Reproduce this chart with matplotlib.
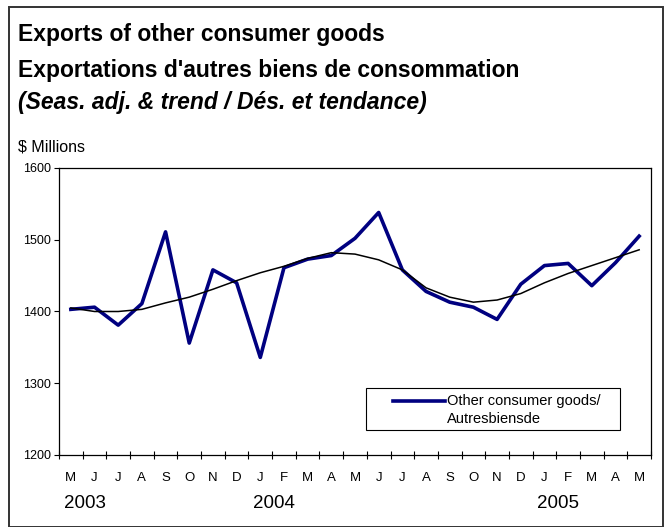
import matplotlib.pyplot as plt
from matplotlib.lines import Line2D
from matplotlib.transforms import blended_transform_factory
import numpy as np

plt.rcParams['font.family'] = ['Liberation Sans', 'DejaVu Sans']

# mois de mai 2003 a mai 2005
months = ['M', 'J', 'J', 'A', 'S', 'O', 'N', 'D', 'J', 'F', 'M', 'A',
          'M', 'J', 'J', 'A', 'S', 'O', 'N', 'D', 'J', 'F', 'M', 'A', 'M']
years = ['2003', '2004', '2005']
year_pos = [0, 8, 20]

seas_adj = [1403, 1406, 1381, 1411, 1511, 1356, 1458, 1440, 1336, 1461, 1473, 1478,
            1502, 1538, 1458, 1428, 1413, 1406, 1389, 1438, 1464, 1467, 1436, 1468, 1505]
trend = [1405, 1400, 1400, 1403, 1412, 1420, 1431, 1443, 1454, 1463, 1474, 1482,
         1480, 1472, 1458, 1433, 1420, 1413, 1416, 1425, 1440, 1453, 1464, 1475, 1486]

W, H = 666, 527
fig = plt.figure(figsize=(W/100, H/100), dpi=100)

# cadre exterieur
fig.patches.append(plt.Rectangle((9/W, 0.5/H), 654/W, 520/H, transform=fig.transFigure,
                                 fill=False, edgecolor='#333333', linewidth=1.4))

fig.text(18/W, 1-35/H, 'Exports of other consumer goods', fontsize=16.5, fontweight='bold', va='center')
fig.text(18/W, 1-71/H, "Exportations d'autres biens de consommation", fontsize=16.5, fontweight='bold', va='center')
fig.text(18/W, 1-102/H, '(Seas. adj. & trend / Dés. et tendance)', fontsize=16.5, fontweight='bold',
         style='italic', va='center')
fig.text(18/W, 1-147/H, '$ Millions', fontsize=11.5, va='center')

ax = fig.add_axes([59/W, 1-455/H, 592/W, 287/H])
x = np.arange(len(months))
ax.plot(x, seas_adj, color='#000080', linewidth=2.6)
ax.plot(x, trend, color='black', linewidth=1.1)

ax.set_xlim(-0.5, 24.5)
ax.set_ylim(1200, 1600)
ax.set_yticks([1200, 1300, 1400, 1500, 1600])
ax.tick_params(axis='y', labelsize=9, length=3.5, width=0.8, pad=2)

ax.set_xticks(np.arange(-0.5, 25, 1))
ax.set_xticklabels([])
ax.tick_params(axis='x', which='major', direction='inout', length=6, width=0.8)
ax.set_xticks(x, minor=True)
ax.set_xticklabels(months, minor=True, fontsize=9.5)
ax.tick_params(axis='x', which='minor', length=0, pad=12)

# annees sous les mois
trans = blended_transform_factory(ax.transData, fig.transFigure)
for lab, p in zip(years, year_pos):
    ax.text(p - 0.3, 1 - 504/H, lab, transform=trans, fontsize=13.5, ha='left', va='center')

for s in ax.spines.values():
    s.set_linewidth(0.9)

# legende (seulement la serie desaisonnalisee)
fig.patches.append(plt.Rectangle((366/W, 1-430/H), 254/W, 42/H, transform=fig.transFigure,
                                 fill=False, edgecolor='black', linewidth=0.8))
fig.lines.append(Line2D([393/W, 445/W], [1-401/H, 1-401/H], transform=fig.transFigure,
                        color='#000080', linewidth=2.6))
fig.text(447/W, 1-401/H, 'Other consumer goods/', fontsize=10.5, va='center')
fig.text(447/W, 1-419/H, 'Autresbiensde', fontsize=10.5, va='center')

fig.savefig('out.png', dpi=100)
